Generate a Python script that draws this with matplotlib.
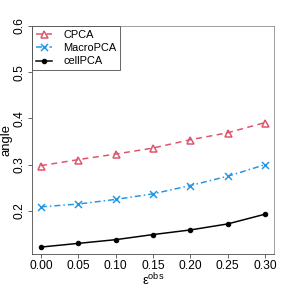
import matplotlib
matplotlib.use("Agg")
import matplotlib.pyplot as plt
import numpy as np

# データ
eps = [0.00, 0.05, 0.10, 0.15, 0.20, 0.25, 0.30]
cpca = [0.298, 0.311, 0.323, 0.336, 0.354, 0.369, 0.391]
macropca = [0.209, 0.215, 0.225, 0.237, 0.255, 0.275, 0.300]
cellpca = [0.122, 0.130, 0.138, 0.149, 0.159, 0.172, 0.193]
xlabels = ['0.00', '0.05', '0.10', '0.15', '0.20', '0.25', '0.30']
ylabels = ['0.2', '0.3', '0.4', '0.5', '0.6']

plt.rcParams['font.family'] = ['Liberation Sans', 'DejaVu Sans']
plt.rcParams['mathtext.fontset'] = 'custom'
plt.rcParams['mathtext.rm'] = 'Liberation Sans'

fig = plt.figure(figsize=(4, 4), dpi=72)
ax = fig.add_axes([0.111, 0.118, 0.840, 0.792])

ax.plot(eps, cpca, color='#DF536B', ls=(0, (4, 3)), lw=1.5, marker='^',
        mfc='none', mew=1.5, ms=7, label='CPCA')
ax.plot(eps, macropca, color='#2297E6', ls=(0, (4, 2, 1, 2)), lw=1.5, marker='x',
        mew=1.5, ms=7, label='MacroPCA')
ax.plot(eps, cellpca, color='black', ls='-', lw=1.5, marker='o',
        ms=4.5, label='cellPCA')

ax.set_xlim(-0.012, 0.312)
ax.set_ylim(0.107, 0.6)
ax.set_xticks(eps)
ax.set_xticklabels(xlabels)
ax.set_yticks([float(v) for v in ylabels])
ax.set_yticklabels(ylabels, rotation=90, va='center')
ax.tick_params(labelsize=12, length=4, pad=2, direction='out', color='#444444')

for s in ['top', 'right']:
    ax.spines[s].set_color('#888888')
for s in ['left', 'bottom']:
    ax.spines[s].set_color('#444444')

ax.set_ylabel('angle', fontsize=13, labelpad=1)
ax.set_xlabel(r'$\mathrm{\epsilon}^{\mathrm{obs}}$', fontsize=13, labelpad=0)

leg = ax.legend(loc='upper left', fontsize=11, frameon=True, fancybox=False,
                borderaxespad=0, handlelength=1.5, handletextpad=1.0,
                borderpad=0.35, labelspacing=0.3, edgecolor='#444444')
leg.get_frame().set_linewidth(1.0)

fig.savefig('out.png', dpi=72)
